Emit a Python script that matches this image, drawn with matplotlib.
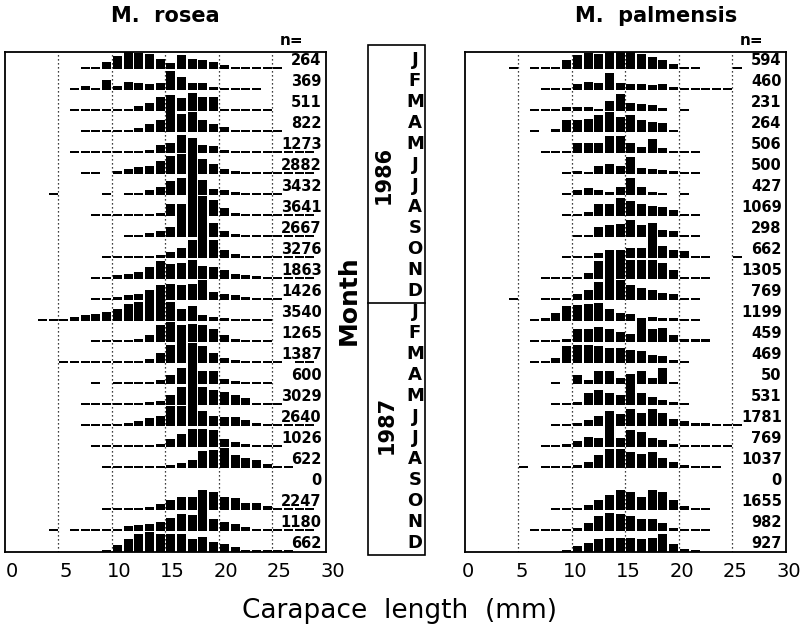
import matplotlib
matplotlib.use('Agg')
import matplotlib.pyplot as plt
from matplotlib.patches import Rectangle
from matplotlib.transforms import ScaledTranslation

W, H = 803, 633

months = ['J', 'F', 'M', 'A', 'M', 'J', 'J', 'A', 'S', 'O', 'N', 'D']
years = ['1986', '1987']
ticks = [0, 5, 10, 15, 20, 25, 30]

# sample sizes, Jan 1986 .. Dec 1987
rosea_n = [264, 369, 511, 822, 1273, 2882, 3432, 3641, 2667, 3276, 1863, 1426,
           3540, 1265, 1387, 600, 3029, 2640, 1026, 622, 0, 2247, 1180, 662]
palm_n = [594, 460, 231, 264, 506, 500, 427, 1069, 298, 662, 1305, 769,
          1199, 459, 469, 50, 531, 1781, 769, 1037, 0, 1655, 982, 927]

# first 1 mm size class of each month
rosea_start = [7, 6, 6, 7, 6, 7, 4, 8, 11, 9, 8, 8,
               3, 8, 5, 8, 7, 7, 8, 9, 0, 9, 4, 9]
palm_start = [4, 7, 6, 6, 7, 9, 9, 9, 10, 9, 7, 4,
              6, 6, 6, 8, 8, 8, 7, 5, 0, 8, 6, 9]

# percent frequency per 1 mm class
rosea_freq = [
    [.8, .8, 3.5, 6, 8.5, 7.5, 7, 5, 3, 6.5, 5, 4.5, 3.5, 2, .8, .8, .8, .8, .8],
    [.8, 2, .8, 5, 2, 4, 3.5, 3, 3.5, 9, 6, 3.5, 3.5, 1.5, .8, .8, .8, .8],
    [.8, .8, .8, .8, .8, .8, 2.5, 4, 6.5, 7.5, 6, 8.5, 6.5, 6.5, .8, .8, .8, .8, .8],
    [.8, .8, 1, .8, .8, 2, 4, 5.5, 10.5, 8.5, 9.5, 5.5, 4, 2.5, 1, .8, .8, .8, .8],
    [.8, .8, .8, .8, .8, .8, 1, 1.5, 4, 5, 8.5, 7, 4, 3.5, 1.5, .8, .8, .8, .8, .8, .8, .8, .8],
    [.8, .8, 0, 1.5, 2.5, 3.5, 4, 6, 8.5, 9.5, 12, 7, 5, 2.5, 1.5, .8, .8, .8, .8, .8, .8, .8],
    [.8, 0, 0, 0, 0, .8, 0, .8, .8, 2.5, 4, 6.5, 8, 12, 7, 3, 2.5, 1.5, .8, .8, .8, .8],
    [.8, .8, .8, .8, .8, .8, 1.5, 5.5, 5.5, 14.5, 9.5, 7.5, 4, 1.5, .8, .8, .8, .8, .8, .8, .8],
    [.8, .8, 2, 3, 5, 10.5, 14.5, 11.5, 6.5, 3, 1.5, .8, .8, .8, .8, .8, .8, .8],
    [.8, .8, .8, .8, 1, 1.5, 3, 5, 8.5, 17, 8.5, 4, 2, 1, .8, .8, .8, .8, .8, .8],
    [.8, .8, 2, 2.5, 3.5, 5.5, 8.5, 7, 7.5, 9, 6, 5.5, 4.5, 2.5, 2, 1.5, .8, .8, .8, .8, .8],
    [.8, .8, 1.5, 2.5, 3, 5, 5, 7.5, 7, 7.5, 9.5, 4, 3, 2.5, 1.5, .8, .8, .8],
    [.8, .8, 1, 2, 3, 3.5, 4.5, 5.5, 8, 9, 13, 17, 9, 5.5, 7, 3, 2, 1.5, .8, .8, .8, .8],
    [.8, .8, .8, 1, 1.5, 3.5, 8, 9.5, 8, 8.5, 8, 6, 3.5, 1.5, .8, .8, .8],
    [.8, .8, .8, .8, .8, .8, .8, 1, 2, 5, 8.5, 10.5, 9.5, 8, 5, 2.5, 1.5, 1, .8, .8, .8, 0, .8, .8],
    [.8, 0, .8, .8, .8, .8, 2, 4.5, 7.5, 10, 6, 6, 2.5, 1.5, .8, .8, .8],
    [.8, .8, .8, .8, 1, 1, 1.5, 2, 5, 8.5, 14.5, 8.5, 7, 6, 5, 3.5, 1, .8, .8],
    [.8, .8, .8, .8, 1.5, 2.5, 4, 5, 9.5, 9.5, 12, 7, 5, 4.5, 4.5, 3, 1.5, .8, .8, .8, .8, .8],
    [.8, .8, .8, .8, .8, .8, 1.5, 4, 6, 8.5, 8.5, 8, 4, 2.5, 1.5, .8, .8, .8],
    [.8, .8, .8, .8, .8, .8, 1.5, 2.5, 4, 8, 8.5, 9.5, 6, 5, 4, 2, .8, .8],
    [],
    [.8, .8, .8, .8, 1.5, 3, 5, 6, 6, 9.5, 8.5, 6, 5.5, 3.5, 3.5, 2, .8, .8, .8, .8],
    [.8, 0, .8, .8, .8, .8, 1, 2.5, 3, 3.5, 4.5, 6, 8, 7.5, 12.5, 5.5, 4.5, 3.5, 2, 1, .8, .8, .8, .8, .8],
    [.8, 3.5, 6, 8.5, 9.5, 8.5, 8.5, 8.5, 6, 7, 5, 4, 2.5, 1, .8, .8, .8, .8],
]

palm_freq = [
    [.8, 0, .8, .8, 1, 4.5, 6.5, 7.5, 7, 9, 8, 9, 7, 5.5, 4.5, 2.5, .8, .8, 0, 0, 0, .8],
    [.8, .8, 1, 3, 4, 3.5, 8, 3.5, 3, 3, 2.5, 3, 1.5, .8, .8, .8, .8, .8],
    [.8, .8, 1, 2, 2, 2, 1, 5, 8, 4, 3.5, 3, 1.5, 0, .8],
    [.8, 0, 1.5, 5.5, 5.5, 6, 8, 9.5, 7, 8, 5.5, 5, 4.5, 1],
    [.8, .8, 1, 5, 5, 5, 8, 8, 5, 3, 6.5, 2.5, 1, .8, .8],
    [.8, 1.5, .8, 4, 5, 4, 8, 3, 2.5, 2, 1.5, .8, .8],
    [.8, 2.5, 3.5, 2.5, 1.5, 4, 8, 4, 1.5, .8, 0, 1],
    [.8, 1, 2, 5.5, 5.5, 8.5, 7, 5.5, 5, 4.5, 3, .8, .8],
    [.8, .8, 5, 5.5, 6, 8, 5.5, 6, 3.5, 3, .8, .8],
    [.8, .8, .8, 2.5, 3.5, 4, 5, 5, 16.5, 5.5, 4, 3.5, .8, .8, 0, 0, .8],
    [.8, .8, .8, 1, 3, 8.5, 14, 13.5, 9, 9, 9, 7.5, 4.5, 1, .8, .8],
    [.8, 0, 0, .8, .8, .8, 3, 5, 8.5, 10.5, 9.5, 7, 5.5, 5, 3.5, 3, .8, .8],
    [.8, 1.5, 4, 7, 7.5, 8, 8.5, 5.5, 4, 3.5, 1.5, 2, 1.5, 1.5, .8, .8],
    [.8, .8, .8, 1.5, 6, 6, 7, 6, 5, 4, 10.5, 6, 6.5, 3.5, 1.5, 1.5, 1.5],
    [.8, .8, 2.5, 8, 8.5, 8.5, 8, 7, 7, 6, 5.5, 4, 3.5, 1.5, .8],
    [.8, 0, 4.5, 2, 6, 6, 3, 5, 6, 3, 7.5, .8],
    [.8, .8, 1.5, 5.5, 7, 5.5, 5, 10.5, 5.5, 4, 2.5, 1.5, .8],
    [.8, .8, 1.5, 3, 5, 7, 5.5, 8, 6, 8, 6, 3.5, 2.5, 1.5, 1.5, .8, .8, .8],
    [.8, 1, 1.5, 3, 5, 4.5, 13.5, 4.5, 8, 7, 4.5, 3.5, 1.5, .8, .8, .8, .8, .8],
    [.8, 0, .8, .8, .8, 1.5, 3, 6, 9, 9, 7.5, 6.5, 7.5, 5, 3, 1.5, .8, .8, .8],
    [],
    [.8, .8, 1, 2.5, 5, 7, 9.5, 8.5, 6, 9.5, 8.5, 5, 2, .8, .8],
    [.8, .8, .8, .8, 1.5, 4, 7, 8.5, 8, 7, 5.5, 5.5, 4, 1.5, .8, .8, .8],
    [.8, 3, 4.5, 6, 6.5, 6.5, 6.5, 6, 6.5, 8.5, 4, 1.5, .8],
]

NROW = len(rosea_n)
TOP = 23.81


def px_axes(fig, x0, y0, x1, y1):
    return fig.add_axes([x0 / W, 1 - y1 / H, (x1 - x0) / W, (y1 - y0) / H])


def draw_panel(ax, starts, freqs, counts, label_shift):
    for k in range(NROW):
        base = NROW - 1 - k
        if freqs[k]:
            xs = [starts[k] + i + 0.08 for i in range(len(freqs[k]))]
            hs = [f / 10.0 for f in freqs[k]]
            ax.bar(xs, hs, width=0.84, bottom=base, align='edge',
                   color='black', linewidth=0, zorder=2)
        ax.text(29.6, base + 0.42, str(counts[k]), ha='right', va='center',
                fontsize=10.5, fontweight='bold', zorder=3)
    for g in ticks[1:-1]:
        ax.axvline(g, color='black', linestyle=(0, (1, 2.2)), linewidth=0.9, zorder=1)
    ax.set_xlim(0, 30)
    ax.set_ylim(0, TOP)
    ax.set_yticks([])
    ax.set_xticks(ticks)
    ax.tick_params(axis='x', length=0, pad=7, labelsize=14)
    for lbl in ax.get_xticklabels():
        lbl.set_transform(lbl.get_transform() +
                          ScaledTranslation(label_shift / 100, 0, fig.dpi_scale_trans))
    for s in ax.spines.values():
        s.set_linewidth(1.3)
    ax.text(26.8, TOP + 0.55, 'n=', ha='center', va='center',
            fontsize=11, fontweight='bold', clip_on=False)


fig = plt.figure(figsize=(W / 100, H / 100), dpi=100)

ax_l = px_axes(fig, 5, 52, 326, 552)
draw_panel(ax_l, rosea_start, rosea_freq, rosea_n, 7)
ax_r = px_axes(fig, 465, 52, 786, 552)
draw_panel(ax_r, palm_start, palm_freq, palm_n, 3)

fig.text(165 / W, 1 - 16 / H, 'M.  rosea', ha='center', va='center',
         fontsize=15, fontweight='bold')
fig.text(656 / W, 1 - 16 / H, 'M.  palmensis', ha='center', va='center',
         fontsize=15, fontweight='bold')
fig.text(400 / W, 1 - 611 / H, 'Carapace  length  (mm)', ha='center', va='center',
         fontsize=19)

# month / year key in the middle
ax_m = px_axes(fig, 330, 52, 460, 552)
ax_m.set_xlim(330, 460)
ax_m.set_ylim(0, TOP)
ax_m.axis('off')
box_bot = (552 - 555) / 21
box_top = (552 - 45) / 21
ax_m.add_patch(Rectangle((368, box_bot), 57, box_top - box_bot, fill=False,
                         edgecolor='black', linewidth=1.2, clip_on=False))
split = (552 - 303) / 21
ax_m.plot([368, 425], [split, split], color='black', linewidth=1.2, clip_on=False)
for k in range(NROW):
    ax_m.text(415, NROW - 1 - k + 0.45, months[k % 12], ha='center', va='center',
              fontsize=13, fontweight='bold', clip_on=False)
ax_m.text(384, (552 - 175) / 21, years[0], rotation=90, ha='center', va='center',
          fontsize=15, fontweight='bold', clip_on=False)
ax_m.text(387, (552 - 425) / 21, years[1], rotation=90, ha='center', va='center',
          fontsize=15, fontweight='bold', clip_on=False)
ax_m.text(349, (552 - 300) / 21, 'Month', rotation=90, ha='center', va='center',
          fontsize=18, fontweight='bold', clip_on=False)

fig.savefig('out.png', dpi=100)
